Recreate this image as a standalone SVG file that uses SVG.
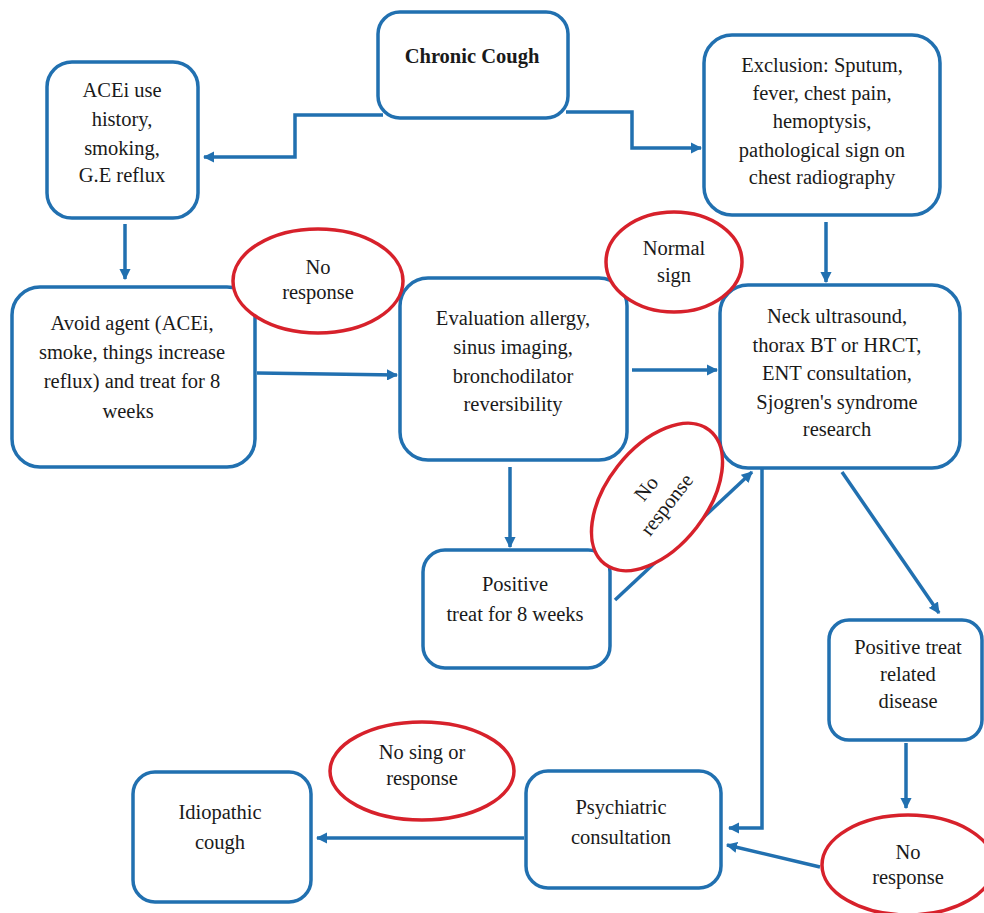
<svg xmlns="http://www.w3.org/2000/svg" width="984" height="913" viewBox="0 0 984 913" font-family="Liberation Serif, DejaVu Serif, serif">
<style>
.box{fill:#fff;stroke:#2170b0;stroke-width:3.5}
.ell{fill:#fff;stroke:#d7212b;stroke-width:3.5}
text{font-size:20.5px;fill:#1a1a1a;text-anchor:middle}
.b{font-weight:bold}
.c{fill:none;stroke:#2170b0;stroke-width:3.5}
</style>
<defs>
<marker id="ah" viewBox="0 0 10 10" refX="9" refY="5" markerWidth="3.2" markerHeight="3.2" orient="auto" markerUnits="strokeWidth">
<path d="M0,0 L10,5 L0,10 z" fill="#2170b0"/>
</marker>
</defs>
<rect width="984" height="913" fill="#fff"/>
<g id="connectors">
<path class="c" d="M383 115 H295 V157 H204" marker-end="url(#ah)"/>
<path class="c" d="M566 112 H632 V148 H701" marker-end="url(#ah)"/>
<path class="c" d="M125 224 V279" marker-end="url(#ah)"/>
<path class="c" d="M826 222 V282" marker-end="url(#ah)"/>
<path class="c" d="M257 373 L397 375" marker-end="url(#ah)"/>
<path class="c" d="M632 370 L717 370" marker-end="url(#ah)"/>
<path class="c" d="M510 467 V547" marker-end="url(#ah)"/>
<path class="c" d="M615 600 L752 472" marker-end="url(#ah)"/>
<path class="c" d="M842 472 L939 613" marker-end="url(#ah)"/>
<path class="c" d="M762 468 V828 H729" marker-end="url(#ah)"/>
<path class="c" d="M906 743 V808" marker-end="url(#ah)"/>
<path class="c" d="M820 867 L727 845" marker-end="url(#ah)"/>
<path class="c" d="M524 838 H317" marker-end="url(#ah)"/>
</g>
<g id="chronic">
<rect class="box" x="378" y="12" width="190" height="106" rx="22"/>
<text class="b" x="472" y="63">Chronic Cough</text>
</g>
<g id="acei">
<rect class="box" x="47" y="62" width="151" height="156" rx="25"/>
<text x="122" y="97">ACEi use</text>
<text x="122" y="126">history,</text>
<text x="122" y="155">smoking,</text>
<text x="122" y="182">G.E reflux</text>
</g>
<g id="exclusion">
<rect class="box" x="704" y="35" width="236" height="180" rx="28"/>
<text x="822" y="72">Exclusion: Sputum,</text>
<text x="822" y="100">fever, chest pain,</text>
<text x="822" y="128">hemoptysis,</text>
<text x="822" y="157">pathological sign on</text>
<text x="822" y="184">chest radiography</text>
</g>
<g id="avoid">
<rect class="box" x="12" y="287" width="243" height="180" rx="28"/>
<text x="132" y="330">Avoid agent (ACEi,</text>
<text x="132" y="359">smoke, things increase</text>
<text x="132" y="388">reflux) and treat for 8</text>
<text x="128" y="418">weeks</text>
</g>
<g id="evaluation">
<rect class="box" x="400" y="278" width="227" height="182" rx="28"/>
<text x="513" y="325">Evaluation allergy,</text>
<text x="513" y="354">sinus imaging,</text>
<text x="513" y="383">bronchodilator</text>
<text x="513" y="411">reversibility</text>
</g>
<g id="neck">
<rect class="box" x="720" y="285" width="240" height="183" rx="28"/>
<text x="837" y="323">Neck ultrasound,</text>
<text x="837" y="352">thorax BT or HRCT,</text>
<text x="837" y="380">ENT consultation,</text>
<text x="837" y="409">Sjogren's syndrome</text>
<text x="837" y="436">research</text>
</g>
<g id="positive8">
<rect class="box" x="423" y="550" width="187" height="118" rx="22"/>
<text x="515" y="591">Positive</text>
<text x="515" y="621">treat for 8 weeks</text>
</g>
<g id="positiveRelated">
<rect class="box" x="829" y="620" width="153" height="120" rx="20"/>
<text x="908" y="654">Positive treat</text>
<text x="908" y="681">related</text>
<text x="908" y="708">disease</text>
</g>
<g id="idiopathic">
<rect class="box" x="133" y="772" width="178" height="130" rx="22"/>
<text x="220" y="819">Idiopathic</text>
<text x="220" y="849">cough</text>
</g>
<g id="psychiatric">
<rect class="box" x="526" y="771" width="195" height="117" rx="22"/>
<text x="621" y="814">Psychiatric</text>
<text x="621" y="844">consultation</text>
</g>
<g id="noResponse1">
<ellipse class="ell" cx="318" cy="281" rx="85" ry="52"/>
<text x="318" y="274">No</text>
<text x="318" y="299">response</text>
</g>
<g id="normalSign">
<ellipse class="ell" cx="674" cy="262" rx="68" ry="50"/>
<text x="674" y="255">Normal</text>
<text x="674" y="282">sign</text>
</g>
<g id="noResponse2" transform="translate(657 497) rotate(-52)">
<ellipse class="ell" cx="0" cy="0" rx="85" ry="50"/>
<text x="0" y="-7">No</text>
<text x="0" y="19">response</text>
</g>
<g id="noSign">
<ellipse class="ell" cx="422" cy="771" rx="92" ry="49"/>
<text x="422" y="759">No sing or</text>
<text x="422" y="785">response</text>
</g>
<g id="noResponse3">
<ellipse class="ell" cx="908" cy="865" rx="86" ry="50"/>
<text x="908" y="859">No</text>
<text x="908" y="884">response</text>
</g>
</svg>
